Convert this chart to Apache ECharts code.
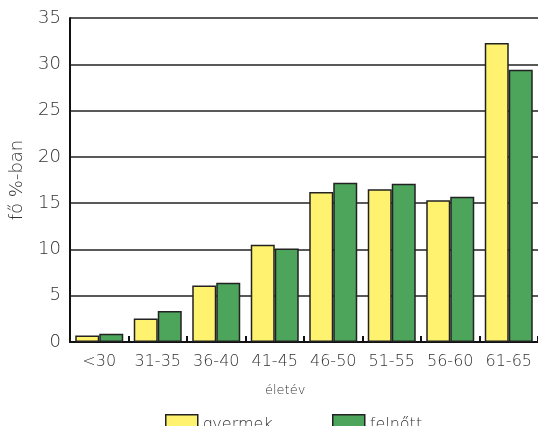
<!DOCTYPE html>
<html><head><meta charset="utf-8">
<script src="https://cdn.jsdelivr.net/npm/echarts@6/dist/echarts.min.js"></script>
<style>html,body{margin:0;padding:0;background:#fff}#c{width:538px;height:426px}</style>
</head><body><div id="c"></div>
<script>
var categories = ['<30','31-35','36-40','41-45','46-50','51-55','56-60','61-65'];
var gyermek = [0.7, 2.55, 6.1, 10.5, 16.2, 16.5, 15.3, 32.3];
var felnott = [0.9, 3.35, 6.4, 10.1, 17.2, 17.1, 15.7, 29.4];
var yTicks = [0, 5, 10, 15, 20, 25, 30, 35];
var FONT = 'DejaVu Sans';
var W = 200;
var chart = echarts.init(document.getElementById('c'));
chart.setOption({
  animation: false,
  textStyle: {fontFamily: FONT, fontWeight: W},
  grid: {left: 68, top: 18, width: 475, height: 324, containLabel: false},
  legend: [
    {data: ['gyermek'], left: 160, top: 409, icon: 'rect', itemWidth: 32, itemHeight: 20, itemGap: 8,
     itemStyle: {borderColor: '#222', borderWidth: 1.5},
     textStyle: {fontSize: 16, color: '#333', fontFamily: FONT, fontWeight: W}},
    {data: ['felnőtt'], left: 327, top: 409, icon: 'rect', itemWidth: 32, itemHeight: 20, itemGap: 8,
     itemStyle: {borderColor: '#222', borderWidth: 1.5},
     textStyle: {fontSize: 16, color: '#333', fontFamily: FONT, fontWeight: W}}
  ],
  graphic: [{type: 'text', left: 265, top: 384, style: {text: 'életév', fontSize: 13, fill: '#333', fontFamily: FONT, fontWeight: W}}],
  xAxis: {
    type: 'category', data: categories,
    axisLine: {lineStyle: {color: '#111', width: 2}},
    axisTick: {show: true, inside: true, length: 6, lineStyle: {color: '#111', width: 2}},
    axisLabel: {fontSize: 16, color: '#333', margin: 12, interval: 0, fontFamily: FONT, fontWeight: W}
  },
  yAxis: {
    type: 'value', min: 0, max: 35, interval: 5,
    name: 'fő %-ban', nameLocation: 'middle', nameGap: 44, nameRotate: 90,
    nameTextStyle: {fontSize: 18, color: '#333', fontFamily: FONT, fontWeight: W},
    axisLine: {show: true, lineStyle: {color: '#111', width: 2}},
    axisTick: {show: false},
    axisLabel: {fontSize: 18, color: '#333', margin: 9, fontFamily: FONT, fontWeight: W, formatter: function(v){return yTicks.indexOf(v) >= 0 ? String(v) : '';}},
    splitLine: {show: true, lineStyle: {color: '#222', width: 1.5}}
  },
  series: [
    {name: 'gyermek', type: 'bar', data: gyermek, barWidth: 24, barGap: '0%',
     itemStyle: {color: '#fff26e', borderColor: '#222', borderWidth: 1.5}},
    {name: 'felnőtt', type: 'bar', data: felnott, barWidth: 24, barGap: '0%',
     itemStyle: {color: '#4da55c', borderColor: '#222', borderWidth: 1.5}}
  ]
});
</script></body></html>
